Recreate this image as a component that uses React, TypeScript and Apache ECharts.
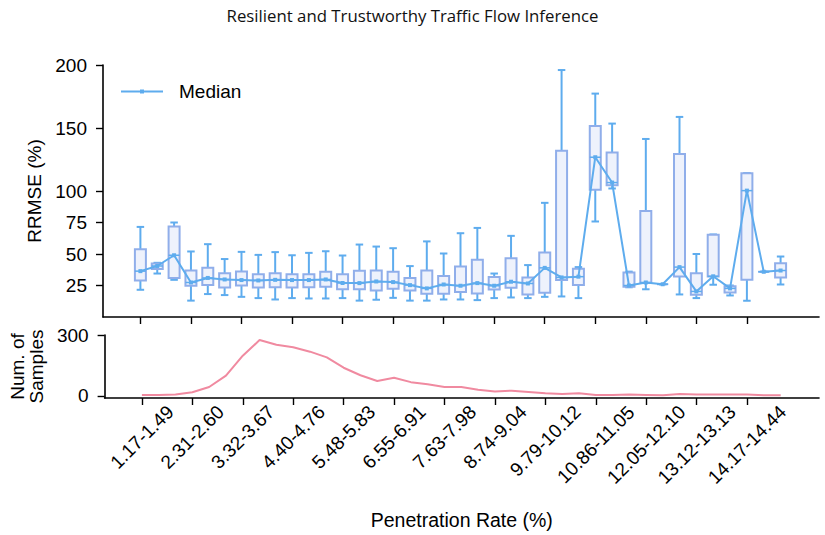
import React, { useEffect, useRef } from "react";
import * as echarts from "echarts";

// Tick labels (every 3rd penetration-rate bin) and their bin indices
const tickLabels = [
  "1.17-1.49", "2.31-2.60", "3.32-3.67", "4.40-4.76", "5.48-5.83", "6.55-6.91",
  "7.63-7.98", "8.74-9.04", "9.79-10.12", "10.86-11.05", "12.05-12.10", "13.12-13.13", "14.17-14.44",
];
const tickIndex = [0, 3, 6, 9, 12, 15, 18, 21, 24, 27, 30, 33, 36];

// Box statistics per bin (RRMSE %)
const boxMin = [21.6, 34.5, 29.5, 13, 18.2, 17.4, 16, 15, 13.9, 15, 14.7, 14.7, 15, 13, 13.7, 15.2, 13, 13, 13.9, 13.9, 13.4, 15, 15.5, 15, 16, 16.3, 15, 75.8, 102, 23.6, 22, 26, 17.9, 15, 25.6, 17.1, 12.9, 35.9, 25.8];
const boxQ1 = [29, 38, 31, 24.8, 25.3, 23.4, 25, 23.4, 23.7, 23.4, 23.7, 24, 22, 22, 21, 22.4, 21, 18.4, 18.4, 19.8, 18.6, 21.8, 23.2, 17.9, 19.2, 29.3, 25.3, 100.9, 104.6, 24, 26.9, 26, 32.1, 17.6, 32.1, 19.5, 29.5, 35.9, 31.4];
const boxMedian = [36.4, 40.5, 49, 27.4, 31, 29.8, 29.3, 29, 29.5, 29.3, 29.3, 29.8, 27, 26.9, 28.2, 27.7, 25.3, 22.7, 25.8, 24.8, 26.9, 24.8, 28, 26.6, 39, 31.4, 32, 126.8, 106.7, 25, 27.4, 26, 39.6, 20.3, 32.3, 22.7, 100.3, 35.9, 36.9];
const boxQ3 = [53.8, 42.5, 71.8, 36.9, 39, 34.8, 36.1, 34, 34.8, 34, 34, 35.9, 34, 36.7, 36.9, 35.9, 31, 36.9, 32.6, 40, 45.4, 31.7, 46.7, 31.4, 51.2, 132, 38.2, 151.6, 130.5, 35.3, 84.2, 26, 129.4, 34.8, 65.2, 24.5, 114.1, 35.9, 42.7];
const boxMax = [71.5, 43, 75, 52, 57.8, 46, 51.7, 49.3, 51.5, 49, 50.9, 52.2, 48.8, 57.5, 55.9, 54.6, 40.4, 60, 50.4, 66.5, 70.7, 34.5, 64.4, 41.2, 90.6, 196, 39.6, 177.3, 153.5, 36, 141.3, 26, 158.8, 50, 65.5, 25, 114.2, 35.9, 48];

// Number of samples per bin
const sampleCounts = [5, 5, 7, 18, 44, 100, 198, 275, 252, 240, 218, 190, 139, 102, 74, 90, 68, 58, 44, 44, 31, 22, 26, 20, 13, 10, 13, 5, 5, 7, 5, 3, 10, 7, 7, 7, 7, 3, 3];

const yTicksTop = [25, 50, 75, 100, 150, 200];
const yTicksBottom = [0, 300];

const FONT = "'Liberation Sans', Arial, Helvetica, sans-serif";
const WHISKER = "#5eacee";
const BOX_EDGE = "#90aeea";
const BOX_FILL = "#eef2fc";
const PINK = "#f08aa0";
const LABEL_SIZE = 19;

export default function App() {
  const ref = useRef<HTMLDivElement>(null);

  useEffect(() => {
    if (!ref.current) return;
    const chart = echarts.init(ref.current, null, { renderer: "svg" });

    const boxData = boxMedian.map((_, i) => [i, boxMin[i], boxQ1[i], boxMedian[i], boxQ3[i], boxMax[i]]);
    const medianData = boxMedian.map((v, i) => [i, v]);
    const countData = sampleCounts.map((v, i) => [i, v]);

    const axisLine = { show: true, onZero: false, lineStyle: { color: "#000", width: 1.6 } };
    const axisTick = { show: true, length: 7, lineStyle: { color: "#000", width: 1.4 } };

    const xBase = {
      type: "value" as const,
      min: -2.22,
      max: 40.28,
      splitLine: { show: false },
      axisLine,
    };

    // shift longer rotated labels so their bounding boxes start at the same height
    const extra = 0.556 * LABEL_SIZE; // one digit width
    const pad = (k: number) => k * extra * 0.5;
    const labelRich: any = {
      s0: { fontFamily: FONT, fontSize: LABEL_SIZE, color: "#000" },
      s1: { fontFamily: FONT, fontSize: LABEL_SIZE, color: "#000", padding: [pad(1), pad(1), 0, 0] },
      s2: { fontFamily: FONT, fontSize: LABEL_SIZE, color: "#000", padding: [pad(2), pad(2), 0, 0] },
    };

    const option: any = {
      animation: false,
      backgroundColor: "#fff",
      title: {
        text: "Resilient and Trustworthy Traffic Flow Inference",
        left: "center",
        top: 2,
        textStyle: { fontFamily: "'Open Sans', Lato, sans-serif", fontSize: 16.8, fontWeight: "normal", color: "#111" },
      },
      legend: {
        data: ["Median"],
        left: 120,
        top: 82,
        padding: 0,
        itemWidth: 42,
        itemHeight: 5,
        textStyle: { fontFamily: FONT, fontSize: 19, color: "#000", padding: [0, 0, 0, 11] },
      },
      grid: [
        { left: 103, top: 65, width: 716, height: 252 },
        { left: 103, top: 335, width: 716, height: 63 },
      ],
      xAxis: [
        {
          ...xBase,
          gridIndex: 0,
          axisTick: { ...axisTick, customValues: tickIndex },
          axisLabel: { show: false },
        },
        {
          ...xBase,
          gridIndex: 1,
          axisTick: { ...axisTick, customValues: tickIndex },
          axisLabel: {
            customValues: tickIndex,
            formatter: (v: number) => {
              const t = tickLabels[tickIndex.indexOf(Math.round(v))] ?? "";
              const k = Math.max(0, Math.min(2, t.length - 9));
              return `{s${k}|${t}}`;
            },
            rich: labelRich,
            rotate: 45,
            align: "center",
            verticalAlign: "middle",
            margin: 39,
            fontFamily: FONT,
            fontSize: LABEL_SIZE,
            color: "#000",
          },
          name: "Penetration Rate (%)",
          nameLocation: "middle",
          nameGap: 112,
          nameTextStyle: { fontFamily: FONT, fontSize: 19.5, color: "#000" },
        },
      ],
      yAxis: [
        {
          type: "value",
          gridIndex: 0,
          min: 0,
          max: 200,
          splitLine: { show: false },
          axisLine,
          axisTick: { ...axisTick, customValues: yTicksTop },
          axisLabel: { customValues: yTicksTop, margin: 16, fontFamily: FONT, fontSize: 19, color: "#000" },
          name: "RRMSE (%)",
          nameLocation: "middle",
          nameRotate: 90,
          nameGap: 46,
          nameTextStyle: { fontFamily: FONT, fontSize: 19, color: "#000" },
        },
        {
          type: "value",
          gridIndex: 1,
          min: -10,
          max: 300,
          splitLine: { show: false },
          axisLine,
          axisTick: { ...axisTick, customValues: yTicksBottom },
          axisLabel: { customValues: yTicksBottom, margin: 16, fontFamily: FONT, fontSize: 19, color: "#000" },
          name: "Num. of\nSamples",
          nameLocation: "middle",
          nameRotate: 90,
          nameGap: 54,
          nameTextStyle: { fontFamily: FONT, fontSize: 19, color: "#000", lineHeight: 19 },
        },
      ],
      series: [
        {
          type: "custom",
          name: "boxes",
          xAxisIndex: 0,
          yAxisIndex: 0,
          encode: { x: 0, y: [1, 2, 3, 4, 5] },
          data: boxData,
          z: 2,
          renderItem: (params: any, api: any) => {
            const x = api.value(0);
            const pMin = api.coord([x, api.value(1)]);
            const pQ1 = api.coord([x, api.value(2)]);
            const pMed = api.coord([x, api.value(3)]);
            const pQ3 = api.coord([x, api.value(4)]);
            const pMax = api.coord([x, api.value(5)]);
            const cx = pMed[0];
            const bw = 11;
            const cw = 7.5;
            const ws = { stroke: WHISKER, lineWidth: 2 };
            return {
              type: "group",
              children: [
                { type: "line", shape: { x1: cx, y1: pMax[1], x2: cx, y2: pQ3[1] }, style: ws },
                { type: "line", shape: { x1: cx, y1: pQ1[1], x2: cx, y2: pMin[1] }, style: ws },
                { type: "line", shape: { x1: cx - cw / 2, y1: pMax[1], x2: cx + cw / 2, y2: pMax[1] }, style: ws },
                { type: "line", shape: { x1: cx - cw / 2, y1: pMin[1], x2: cx + cw / 2, y2: pMin[1] }, style: ws },
                {
                  type: "rect",
                  shape: { x: cx - bw / 2, y: pQ3[1], width: bw, height: pQ1[1] - pQ3[1] },
                  style: { fill: BOX_FILL, stroke: BOX_EDGE, lineWidth: 2 },
                },
                { type: "line", shape: { x1: cx - bw / 2, y1: pMed[1], x2: cx + bw / 2, y2: pMed[1] }, style: { stroke: WHISKER, lineWidth: 1.5 } },
              ],
            };
          },
        },
        {
          type: "line",
          name: "Median",
          xAxisIndex: 0,
          yAxisIndex: 0,
          data: medianData,
          z: 3,
          symbol: "rect",
          symbolSize: 4,
          showSymbol: true,
          color: WHISKER,
          lineStyle: { color: WHISKER, width: 2 },
          itemStyle: { color: WHISKER },
        },
        {
          type: "line",
          name: "Samples",
          xAxisIndex: 1,
          yAxisIndex: 1,
          data: countData,
          symbol: "none",
          color: PINK,
          lineStyle: { color: PINK, width: 2 },
        },
      ],
    };

    chart.setOption(option);
    return () => chart.dispose();
  }, []);

  return <div ref={ref} style={{ position: "fixed", left: 0, top: 0, width: 825, height: 535 }} />;
}
